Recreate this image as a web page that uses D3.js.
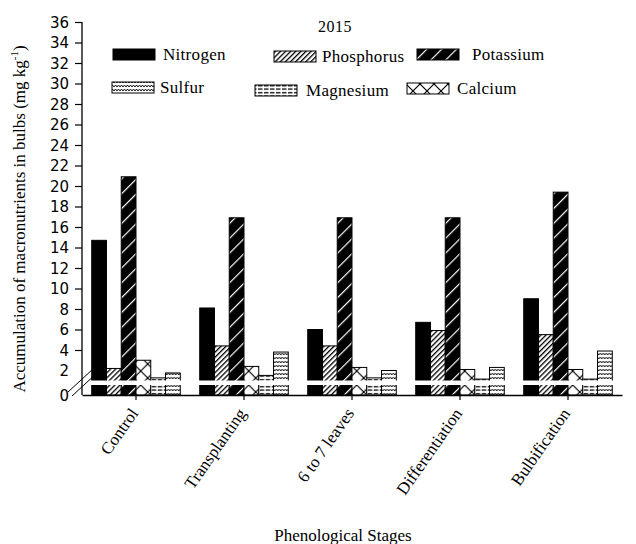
<!DOCTYPE html>
<html>
<head>
<meta charset="utf-8">
<script src="https://cdn.jsdelivr.net/npm/d3@7"></script>
<style>
  html, body { margin: 0; padding: 0; background: #fff; }
  svg { display: block; }
  .serif { font-family: "Liberation Serif", "Times New Roman", serif; }
</style>
</head>
<body>
<svg id="chart" width="636" height="544"></svg>
<script>
// Macronutrient accumulation in bulbs by phenological stage (2015)
const stages = ["Control", "Transplanting", "6 to 7 leaves", "Differentiation", "Bulbification"];
const nitrogen   = [14.7, 8.1, 6.0, 6.7, 9.0];
const phosphorus = [2.2, 4.4, 4.4, 5.9, 5.5];
const potassium  = [20.9, 16.9, 16.9, 16.9, 19.4];
const calcium    = [3.0, 2.4, 2.3, 2.1, 2.1];
const magnesium  = [1.4, 1.6, 1.4, 1.3, 1.3];
const sulfur     = [1.8, 3.8, 2.0, 2.3, 3.9];
const yTickValues = [0, 2, 4, 6, 8, 10, 12, 14, 16, 18, 20, 22, 24, 26, 28, 30, 32, 34, 36];
const seriesNames = ["Nitrogen", "Phosphorus", "Potassium", "Calcium", "Magnesium", "Sulfur"];
const legendOrder = ["Nitrogen", "Phosphorus", "Potassium", "Sulfur", "Magnesium", "Calcium"];

const seriesValues = {
  Nitrogen: nitrogen, Phosphorus: phosphorus, Potassium: potassium,
  Calcium: calcium, Magnesium: magnesium, Sulfur: sulfur
};

const svg = d3.select("#chart");
const sans = "'DejaVu Sans', Verdana, sans-serif";

// ---- fill patterns ----
const defs = svg.append("defs");

function hatch(id, size, bg, fg, width, angle) {
  const p = defs.append("pattern").attr("id", id)
    .attr("patternUnits", "userSpaceOnUse")
    .attr("width", size).attr("height", size)
    .attr("patternTransform", `rotate(${angle})`);
  p.append("rect").attr("width", size).attr("height", size).attr("fill", bg);
  p.append("rect").attr("x", 0).attr("y", 0).attr("width", width).attr("height", size).attr("fill", fg);
}
hatch("pat-phos", 3.6, "#fff", "#000", 1.3, 45);
hatch("pat-pota", 10.5, "#000", "#fff", 1.2, 45);

// calcium: open diagonal cross-hatch
(function () {
  const s = 14;
  const p = defs.append("pattern").attr("id", "pat-calc")
    .attr("patternUnits", "userSpaceOnUse").attr("width", s).attr("height", s)
    .attr("x", 0).attr("y", 0);
  p.append("rect").attr("width", s).attr("height", s).attr("fill", "#fff");
  p.append("path").attr("d", `M0,0L${s},${s}M${s},0L0,${s}`)
    .attr("stroke", "#000").attr("stroke-width", 1.2).attr("fill", "none");
})();

// magnesium: dense horizontal dashes
(function () {
  const p = defs.append("pattern").attr("id", "pat-magn")
    .attr("patternUnits", "userSpaceOnUse").attr("width", 6).attr("height", 3.5);
  p.append("rect").attr("width", 6).attr("height", 3.5).attr("fill", "#fff");
  p.append("rect").attr("x", 0).attr("y", 1).attr("width", 4.5).attr("height", 1.3).attr("fill", "#000");
})();

// sulfur: wavy zigzag rows
(function () {
  const p = defs.append("pattern").attr("id", "pat-sulf")
    .attr("patternUnits", "userSpaceOnUse").attr("width", 6).attr("height", 4);
  p.append("rect").attr("width", 6).attr("height", 4).attr("fill", "#fff");
  p.append("path").attr("d", "M0,3L1.5,1L3,3L4.5,1L6,3")
    .attr("stroke", "#000").attr("stroke-width", 0.9).attr("fill", "none");
})();

const fills = {
  Nitrogen: "#000",
  Phosphorus: "url(#pat-phos)",
  Potassium: "url(#pat-pota)",
  Calcium: "url(#pat-calc)",
  Magnesium: "url(#pat-magn)",
  Sulfur: "url(#pat-sulf)"
};

// ---- scales ----
const left = 82, right = 622;
const x0 = d3.scaleBand().domain(stages).range([left, right])
  .paddingInner(0.18).paddingOuter(0.09);
const x1 = d3.scaleBand().domain(seriesNames).range([0, x0.bandwidth()]);
// broken axis: the 0-2 segment is drawn slightly stretched below the break
const y = d3.scaleLinear().domain([0, 2, 36]).range([395, 370.5, 22]);

// ---- bars ----
const groups = svg.append("g").selectAll("g").data(stages).join("g")
  .attr("transform", d => `translate(${x0(d)},0)`);

groups.selectAll("rect")
  .data((stage, i) => seriesNames.map(name => ({ name, value: seriesValues[name][i] })))
  .join("rect")
  .attr("x", d => x1(d.name))
  .attr("y", d => y(d.value))
  .attr("width", x1.bandwidth())
  .attr("height", d => y(0) - y(d.value))
  .attr("fill", d => fills[d.name])
  .attr("stroke", "#000")
  .attr("stroke-width", 1);

// axis break band across the bars
svg.append("rect")
  .attr("x", left + 1).attr("y", 380.5)
  .attr("width", right - left).attr("height", 4.5)
  .attr("fill", "#fff");

// ---- axes ----
const yAxis = d3.axisLeft(y).tickValues(yTickValues).tickSize(0).tickPadding(13);
const yG = svg.append("g").attr("transform", `translate(${left},0)`).call(yAxis);
yG.select(".domain").remove();
yG.selectAll("text").attr("font-family", sans).attr("font-size", 15).attr("fill", "#000")
  .attr("dy", "0.35em");
yG.selectAll(".tick")
  .filter(d => d >= 4)
  .append("line").attr("x1", -7).attr("x2", 0).attr("stroke", "#000").attr("stroke-width", 1.2);
svg.append("line").attr("x1", left).attr("x2", left).attr("y1", y(36)).attr("y2", y(0))
  .attr("stroke", "#000").attr("stroke-width", 1.3);

const xAxis = d3.axisBottom(x0).tickSize(5).tickSizeOuter(0).tickPadding(6);
const xG = svg.append("g").attr("transform", `translate(0,${y(0)})`).call(xAxis);
xG.attr("font-family", null);
xG.select(".domain").attr("stroke-width", 1.3);
xG.selectAll("line").attr("stroke-width", 1.2);
xG.selectAll("text")
  .attr("class", "serif")
  .attr("font-size", 17).attr("fill", "#000")
  .attr("text-anchor", "end")
  .attr("dy", "0.35em")
  .attr("transform", "translate(-2,15) rotate(-55)")
  .attr("y", 0).attr("x", 0);

// break marks on the value axis
[[0, 0], [4, 4]].forEach(([dx, dy]) => {
  svg.append("line")
    .attr("x1", 68 + dx).attr("y1", 392 + dy)
    .attr("x2", 93 + dx).attr("y2", 369 + dy)
    .attr("stroke", "#000").attr("stroke-width", 1);
});

// ---- titles ----
svg.append("text").attr("class", "serif")
  .attr("x", 335).attr("y", 32)
  .attr("text-anchor", "middle")
  .attr("font-size", 16).attr("letter-spacing", 0.5)
  .text("2015");

const yTitle = svg.append("text").attr("class", "serif")
  .attr("transform", `translate(25,${219}) rotate(-90)`)
  .attr("text-anchor", "middle")
  .attr("font-size", 17);
yTitle.append("tspan").text("Accumulation of macronutrients in bulbs (mg kg");
yTitle.append("tspan").attr("dy", -7).attr("font-size", 11).text("-1");
yTitle.append("tspan").attr("dy", 7).text(")");

svg.append("text").attr("class", "serif")
  .attr("x", 343).attr("y", 541)
  .attr("text-anchor", "middle")
  .attr("font-size", 17)
  .text("Phenological Stages");

// ---- legend ----
const legendLayout = {
  Nitrogen:   { sx: 113, sy: 49, tx: 163, ty: 60 },
  Phosphorus: { sx: 274, sy: 51, tx: 322, ty: 62 },
  Potassium:  { sx: 417, sy: 49, tx: 472, ty: 60 },
  Sulfur:     { sx: 112, sy: 82, tx: 160, ty: 93 },
  Magnesium:  { sx: 255, sy: 85, tx: 306, ty: 96 },
  Calcium:    { sx: 407, sy: 83, tx: 457, ty: 94 }
};
const legend = svg.append("g").selectAll("g").data(legendOrder).join("g");
legend.append("rect")
  .attr("x", d => legendLayout[d].sx).attr("y", d => legendLayout[d].sy)
  .attr("width", 42).attr("height", 11)
  .attr("fill", d => fills[d])
  .attr("stroke", "#000").attr("stroke-width", 1);
legend.append("text").attr("class", "serif")
  .attr("x", d => legendLayout[d].tx).attr("y", d => legendLayout[d].ty)
  .attr("font-size", 17).attr("letter-spacing", 0.3)
  .text(d => d);
</script>
</body>
</html>
